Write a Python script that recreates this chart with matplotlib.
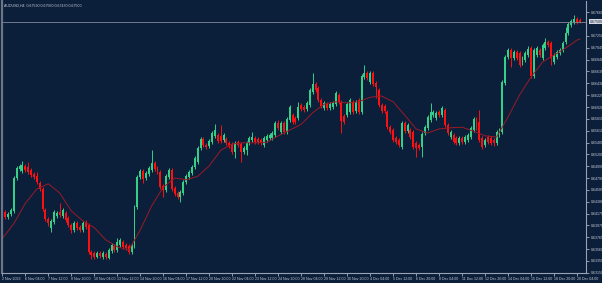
import matplotlib
matplotlib.use("Agg")
import matplotlib.pyplot as plt
import numpy as np

# AUDUSD H4 candles, 2 Nov 2023 - 20 Dec 2023
symbol = "AUDUSD,H4"

opens = [
    .6401, .6420, .6412, .6417, .6422, .6479, .6495, .6491, .6500, .6498,
    .6493, .6486, .6482, .6470, .6460, .6424, .6408, .6393, .6403, .6413,
    .6420, .6413, .6419, .6410, .6398, .6389, .6401, .6394, .6389, .6403,
    .6398, .6351, .6349, .6342, .6349, .6342, .6348, .6341, .6353, .6361,
    .6354, .6363, .6368, .6363, .6361, .6351, .6361, .6429, .6481, .6491,
    .6479, .6486, .6493, .6505, .6496, .6489, .6465, .6458, .6481, .6493,
    .6462, .6453, .6446, .6453, .6472, .6481, .6488, .6498, .6507, .6531,
    .6547, .6536, .6534, .6541, .6552, .6553, .6552, .6545, .6547, .6540,
    .6538, .6524, .6541, .6538, .6524, .6527, .6540, .6545, .6548, .6547,
    .6545, .6536, .6545, .6548, .6548, .6553, .6574, .6559, .6574, .6559,
    .6579, .6588, .6583, .6583, .6605, .6602, .6598, .6605, .6628, .6642,
    .6635, .6614, .6600, .6607, .6600, .6602, .6607, .6623, .6611, .6586,
    .6588, .6593, .6611, .6595, .6614, .6593, .6654, .6661, .6645, .6661,
    .6643, .6631, .6605, .6604, .6593, .6567, .6562, .6548, .6545, .6533,
    .6574, .6560, .6562, .6559, .6540, .6536, .6533, .6557, .6566, .6579,
    .6588, .6583, .6593, .6588, .6597, .6571, .6550, .6553, .6548, .6540,
    .6548, .6541, .6545, .6550, .6562, .6581, .6576, .6548, .6536, .6550,
    .6548, .6545, .6540, .6553, .6559, .6643, .6688, .6701, .6687, .6697,
    .6695, .6678, .6683, .6692, .6704, .6656, .6692, .6701, .6687, .6704,
    .6714, .6713, .6680, .6688, .6695, .6701, .6714, .6730, .6744, .6749,
    .6754, .6753,
]
highs = [
    .6424, .6424, .6420, .6427, .6482, .6500, .6503, .6508, .6503, .6507,
    .6496, .6489, .6489, .6474, .6463, .6427, .6412, .6408, .6424, .6422,
    .6436, .6427, .6422, .6413, .6401, .6405, .6405, .6398, .6405, .6406,
    .6401, .6354, .6353, .6353, .6353, .6353, .6351, .6358, .6366, .6365,
    .6375, .6375, .6372, .6367, .6365, .6366, .6432, .6484, .6495, .6495,
    .6491, .6500, .6527, .6508, .6500, .6493, .6469, .6486, .6496, .6496,
    .6465, .6457, .6458, .6476, .6486, .6493, .6502, .6517, .6534, .6550,
    .6550, .6540, .6547, .6560, .6572, .6557, .6571, .6557, .6550, .6543,
    .6541, .6543, .6545, .6541, .6534, .6543, .6552, .6559, .6552, .6550,
    .6548, .6552, .6555, .6557, .6560, .6578, .6579, .6578, .6578, .6585,
    .6605, .6592, .6586, .6611, .6609, .6605, .6612, .6635, .6661, .6645,
    .6638, .6617, .6612, .6611, .6611, .6612, .6630, .6626, .6614, .6590,
    .6611, .6617, .6614, .6614, .6617, .6659, .6675, .6664, .6664, .6664,
    .6647, .6635, .6609, .6607, .6597, .6571, .6566, .6552, .6548, .6578,
    .6578, .6574, .6566, .6562, .6543, .6540, .6559, .6571, .6588, .6609,
    .6597, .6595, .6597, .6604, .6600, .6574, .6562, .6557, .6552, .6552,
    .6552, .6553, .6557, .6569, .6585, .6585, .6597, .6552, .6548, .6553,
    .6552, .6548, .6562, .6566, .6649, .6692, .6704, .6704, .6701, .6701,
    .6699, .6690, .6699, .6707, .6707, .6704, .6707, .6704, .6713, .6721,
    .6718, .6716, .6695, .6701, .6704, .6716, .6740, .6749, .6754, .6761,
    .6758, .6756,
]
lows = [
    .6398, .6408, .6408, .6413, .6419, .6476, .6491, .6488, .6489, .6486,
    .6481, .6477, .6469, .6457, .6422, .6405, .6396, .6386, .6400, .6410,
    .6412, .6410, .6403, .6394, .6384, .6386, .6389, .6386, .6386, .6391,
    .6348, .6339, .6339, .6341, .6341, .6339, .6339, .6339, .6349, .6351,
    .6351, .6360, .6356, .6354, .6348, .6348, .6358, .6425, .6477, .6470,
    .6476, .6482, .6489, .6491, .6486, .6460, .6446, .6455, .6477, .6457,
    .6448, .6443, .6437, .6450, .6469, .6477, .6484, .6495, .6503, .6527,
    .6533, .6529, .6531, .6538, .6548, .6540, .6540, .6541, .6536, .6531,
    .6521, .6514, .6533, .6507, .6521, .6519, .6536, .6541, .6538, .6538,
    .6536, .6533, .6541, .6545, .6545, .6550, .6562, .6555, .6555, .6555,
    .6576, .6572, .6572, .6579, .6595, .6593, .6595, .6602, .6624, .6628,
    .6611, .6600, .6597, .6597, .6597, .6598, .6604, .6607, .6557, .6572,
    .6585, .6590, .6590, .6592, .6590, .6590, .6650, .6649, .6642, .6638,
    .6617, .6602, .6592, .6592, .6564, .6555, .6541, .6538, .6533, .6529,
    .6557, .6557, .6547, .6529, .6515, .6527, .6515, .6553, .6562, .6576,
    .6585, .6579, .6585, .6585, .6567, .6553, .6547, .6538, .6536, .6536,
    .6538, .6538, .6541, .6547, .6559, .6562, .6541, .6529, .6533, .6538,
    .6536, .6534, .6536, .6550, .6555, .6640, .6685, .6671, .6683, .6683,
    .6671, .6675, .6680, .6688, .6652, .6652, .6688, .6688, .6683, .6701,
    .6706, .6675, .6676, .6685, .6692, .6697, .6711, .6726, .6740, .6745,
    .6745, .6747,
]
closes = [
    .6420, .6412, .6417, .6424, .6479, .6496, .6500, .6502, .6493, .6489,
    .6484, .6481, .6472, .6460, .6425, .6408, .6401, .6405, .6420, .6419,
    .6415, .6424, .6406, .6398, .6389, .6401, .6393, .6389, .6401, .6394,
    .6351, .6346, .6342, .6349, .6344, .6349, .6342, .6354, .6363, .6354,
    .6368, .6372, .6360, .6358, .6351, .6363, .6429, .6481, .6491, .6477,
    .6488, .6496, .6505, .6495, .6489, .6463, .6458, .6482, .6493, .6460,
    .6451, .6446, .6455, .6472, .6482, .6489, .6498, .6514, .6531, .6547,
    .6536, .6533, .6543, .6557, .6562, .6543, .6543, .6553, .6540, .6534,
    .6524, .6540, .6536, .6524, .6531, .6540, .6548, .6550, .6541, .6541,
    .6540, .6548, .6552, .6553, .6557, .6574, .6566, .6574, .6559, .6581,
    .6602, .6576, .6576, .6602, .6598, .6597, .6609, .6631, .6642, .6631,
    .6614, .6604, .6609, .6600, .6607, .6609, .6626, .6611, .6578, .6576,
    .6607, .6614, .6593, .6611, .6593, .6656, .6661, .6652, .6661, .6642,
    .6636, .6605, .6595, .6595, .6567, .6559, .6545, .6541, .6536, .6574,
    .6560, .6571, .6550, .6533, .6531, .6531, .6555, .6567, .6585, .6593,
    .6593, .6592, .6588, .6600, .6571, .6557, .6559, .6541, .6540, .6548,
    .6541, .6550, .6553, .6566, .6581, .6566, .6545, .6533, .6545, .6541,
    .6540, .6540, .6559, .6562, .6645, .6688, .6701, .6687, .6697, .6687,
    .6675, .6687, .6695, .6702, .6656, .6701, .6704, .6692, .6709, .6714,
    .6709, .6687, .6692, .6697, .6701, .6713, .6730, .6745, .6751, .6754,
    .6749, .6750,
]

# moving average, sampled every 4 bars
ma_bars = list(range(0, 201, 4)) + [201]
ma_values = [
    .6374, .6400, .6435, .6460, .6469, .6453, .6422, .6405, .6393, .6372,
    .6360, .6354, .6389, .6431, .6463, .6479, .6476, .6482, .6500, .6527,
    .6538, .6540, .6540, .6541, .6552, .6562, .6572, .6592, .6607, .6611,
    .6609, .6611, .6619, .6621, .6611, .6588, .6564, .6557, .6564, .6566,
    .6567, .6560, .6552, .6550, .6585, .6623, .6654, .6680, .6692, .6704,
    .6718, .6720,
]

date_bars = list(range(0, 201, 8))
date_labels = [
    "2 Nov 2023", "6 Nov 04:00", "7 Nov 12:00", "8 Nov 20:00", "10 Nov 04:00",
    "13 Nov 12:00", "14 Nov 20:00", "16 Nov 04:00", "17 Nov 12:00",
    "20 Nov 20:00", "22 Nov 04:00", "23 Nov 12:00", "24 Nov 20:00",
    "28 Nov 04:00", "29 Nov 12:00", "30 Nov 20:00", "4 Dec 04:00",
    "5 Dec 12:00", "6 Dec 20:00", "8 Dec 04:00", "11 Dec 12:00",
    "12 Dec 20:00", "14 Dec 04:00", "15 Dec 12:00", "18 Dec 20:00",
    "20 Dec 04:00",
]

price_ticks = [
    0.67660, 0.67250, 0.67045, 0.66840, 0.66635, 0.66430, 0.66225,
    0.66020, 0.65815, 0.65610, 0.65405, 0.65200, 0.64995, 0.64790, 0.64585,
    0.64380, 0.64175, 0.63970, 0.63765, 0.63560, 0.63355, 0.63150,
]

bg = "#0b1f3b"
green = "#35cf88"
red = "#ff1010"
txt = "#c6cbd3"
axc = "#9aa2b0"

W, H = 602, 283
plt.rcParams["font.family"] = ["Liberation Sans", "DejaVu Sans"]
fig = plt.figure(figsize=(W / 100, H / 100), dpi=100, facecolor=bg)
ax = fig.add_axes([2 / W, 1 - 273 / H, 584 / W, 272 / H], facecolor=bg)

idx = np.arange(len(closes))
o = np.array(opens)
hi = np.array(highs)
lo = np.array(lows)
c = np.array(closes)
cols = np.where(c >= o, green, red)

ax.vlines(idx, lo, hi, colors=cols, linewidth=0.7)
body = np.maximum(np.abs(c - o), 0.00005)
ax.bar(idx, body, bottom=np.minimum(o, c), width=0.68, color=cols, linewidth=0)

ax.plot(ma_bars, ma_values, color="#9a1b25", linewidth=0.7)

# current price line + label
ax.axhline(closes[-1], color="#7f8999", linewidth=0.6)
ax.text(1.006, closes[-1], f"{closes[-1]:.5f}", transform=ax.get_yaxis_transform(),
        ha="left", va="center", fontsize=2.6, color=bg,
        bbox=dict(boxstyle="square,pad=0.2", fc="#d4d8e0", ec="none"))

ax.set_xlim(-0.1, 203.1)
ax.set_ylim(0.63145, 0.67856)

ax.yaxis.tick_right()
ax.set_yticks(price_ticks)
ax.set_yticklabels([f"{p:.5f}" for p in price_ticks])
ax.set_xticks(date_bars)
ax.set_xticklabels(date_labels, ha="left")
ax.tick_params(axis="y", labelsize=2.6, colors=txt, length=2, width=0.5, pad=1.2)
ax.tick_params(axis="x", labelsize=2.6, colors=txt, length=2, width=0.5, pad=1)
for lab in ax.get_yticklabels() + ax.get_xticklabels():
    lab.set_color(txt)

ax.spines["top"].set_visible(False)
ax.spines["left"].set_color("#6d7585")
ax.spines["left"].set_linewidth(1.6)
ax.spines["right"].set_color(axc)
ax.spines["right"].set_linewidth(0.8)
ax.spines["bottom"].set_color(axc)
ax.spines["bottom"].set_linewidth(0.8)

title = f"{symbol}  {opens[-1]:.5f} {highs[-1]:.5f} {lows[-1]:.5f} {closes[-1]:.5f}"
fig.text(4 / W, 1 - 6 / H, title, fontsize=2.6, color=txt, va="center")

fig.savefig("out.png", dpi=100, facecolor=bg)
